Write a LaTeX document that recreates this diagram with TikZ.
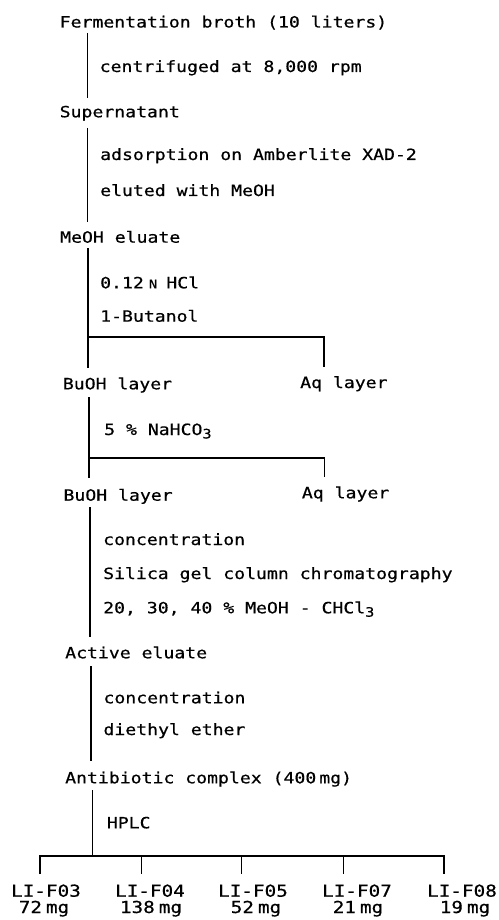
\documentclass[tikz,border=0pt]{standalone}
\usepackage{fontspec}
\newfontfamily\mono[FakeStretch=1.17,FakeBold=0.6]{DejaVu Sans Mono}
\newcommand{\sbt}[1]{\raisebox{-0.4ex}{\fontsize{13}{13}\selectfont #1}}
\begin{document}
\begin{tikzpicture}[x=1pt,y=-1pt,
  lbl/.style={anchor=base west,inner sep=0pt,font=\mono\fontsize{15.5}{18}\selectfont},
  frac/.style={anchor=base,inner sep=0pt,font=\mono\fontsize{16.5}{18}\selectfont},
  ln/.style={line width=1.9pt,black}]
\useasboundingbox (0,0) rectangle (498,920);
% texts
\node[lbl] (broth) at (59.5,27.5) {Fermentation broth (10 liters)};
\node[lbl] (c1) at (99.5,72) {centrifuged at 8,000 rpm};
\node[lbl] (super) at (59.5,117.3) {Supernatant};
\node[lbl] (ads) at (100,160) {adsorption on Amberlite XAD-2};
\node[lbl] (elu) at (100,196) {eluted with MeOH};
\node[lbl] (meoh) at (60,242.7) {MeOH eluate};
\node[lbl] (hcl) at (100,288.3) {0.12\hspace{5pt}{\fontsize{12}{12}\selectfont N}\hspace{9pt}HCl};
\node[lbl] (buol) at (100,321.7) {1-Butanol};
\node[lbl] (bu1) at (62.7,389.3) {BuOH layer};
\node[lbl] (aq1) at (300,388) {Aq layer};
\node[lbl] (nahco) at (104,435) {5 \% NaHCO\sbt{3}};
\node[lbl] (bu2) at (63.3,500.7) {BuOH layer};
\node[lbl] (aq2) at (301.7,498.3) {Aq layer};
\node[lbl] (conc1) at (103,545) {concentration};
\node[lbl] (silica) at (103,579) {Silica gel column chromatography};
\node[lbl] (mix) at (103,613.3) {20, 30, 40 \% MeOH - CHCl\sbt{3}};
\node[lbl] (act) at (65,658.3) {Active eluate};
\node[lbl] (conc2) at (103.3,703.3) {concentration};
\node[lbl] (ether) at (103.3,735) {diethyl ether};
\node[lbl] (anti) at (65,783.3) {Antibiotic complex (400\hspace{3pt}mg)};
\node[lbl] (hplc) at (106.7,828.3) {HPLC};
\node[frac] (f03) at (46,896.7) {LI-F03};
\node[frac] (f04) at (150,896.7) {LI-F04};
\node[frac] (f05) at (253,896.7) {LI-F05};
\node[frac] (f07) at (357,896.7) {LI-F07};
\node[frac] (f08) at (462,896.7) {LI-F08};
\node[frac] (m03) at (44,913) {72\hspace{4pt}mg};
\node[frac] (m04) at (151,913) {138\hspace{4pt}mg};
\node[frac] (m05) at (256,913) {52\hspace{4pt}mg};
\node[frac] (m07) at (358,913) {21\hspace{4pt}mg};
\node[frac] (m08) at (465,913) {19\hspace{4pt}mg};
% connector end points
\coordinate (a1) at (87.5,33);   \coordinate (a2) at (87.5,98);
\coordinate (b1) at (87.5,128);  \coordinate (b2) at (87.5,222);
\coordinate (c1t) at (88,248);   \coordinate (c2) at (88,337); \coordinate (c3) at (88,368);
\coordinate (c4) at (324,337); \coordinate (c5) at (324,367);
\coordinate (d1) at (89,397);  \coordinate (d2) at (89,458); \coordinate (d3) at (89,478);
\coordinate (d4) at (324.5,458); \coordinate (d5) at (324.5,477);
\coordinate (e1) at (90,507);    \coordinate (e2) at (90,637);
\coordinate (g1) at (91,666);  \coordinate (g2) at (91,761);
\coordinate (h1) at (92.5,790);  \coordinate (h2) at (92.5,856);
\coordinate (t0) at (40,856);    \coordinate (t0b) at (40,874);
\coordinate (t1) at (141.5,856); \coordinate (t1b) at (141.5,874);
\coordinate (t2) at (241.5,856); \coordinate (t2b) at (241.5,874);
\coordinate (t3) at (343.5,856); \coordinate (t3b) at (343.5,874);
\coordinate (t4) at (444,856);   \coordinate (t4b) at (444,874);
% connectors
\draw[ln] (a1) -- (a2);
\draw[ln] (b1) -- (b2);
\draw[ln] (c1t) -- (c3);
\draw[ln] (c2) -- (c4) -- (c5);
\draw[ln] (d1) -- (d3);
\draw[ln] (d2) -- (d4) -- (d5);
\draw[ln] (e1) -- (e2);
\draw[ln] (g1) -- (g2);
\draw[ln] (h1) -- (h2);
\draw[ln] (t0b) -- (t0) -- (t4) -- (t4b);
\draw[ln] (t1) -- (t1b);
\draw[ln] (t2) -- (t2b);
\draw[ln] (t3) -- (t3b);
\end{tikzpicture}
\end{document}
